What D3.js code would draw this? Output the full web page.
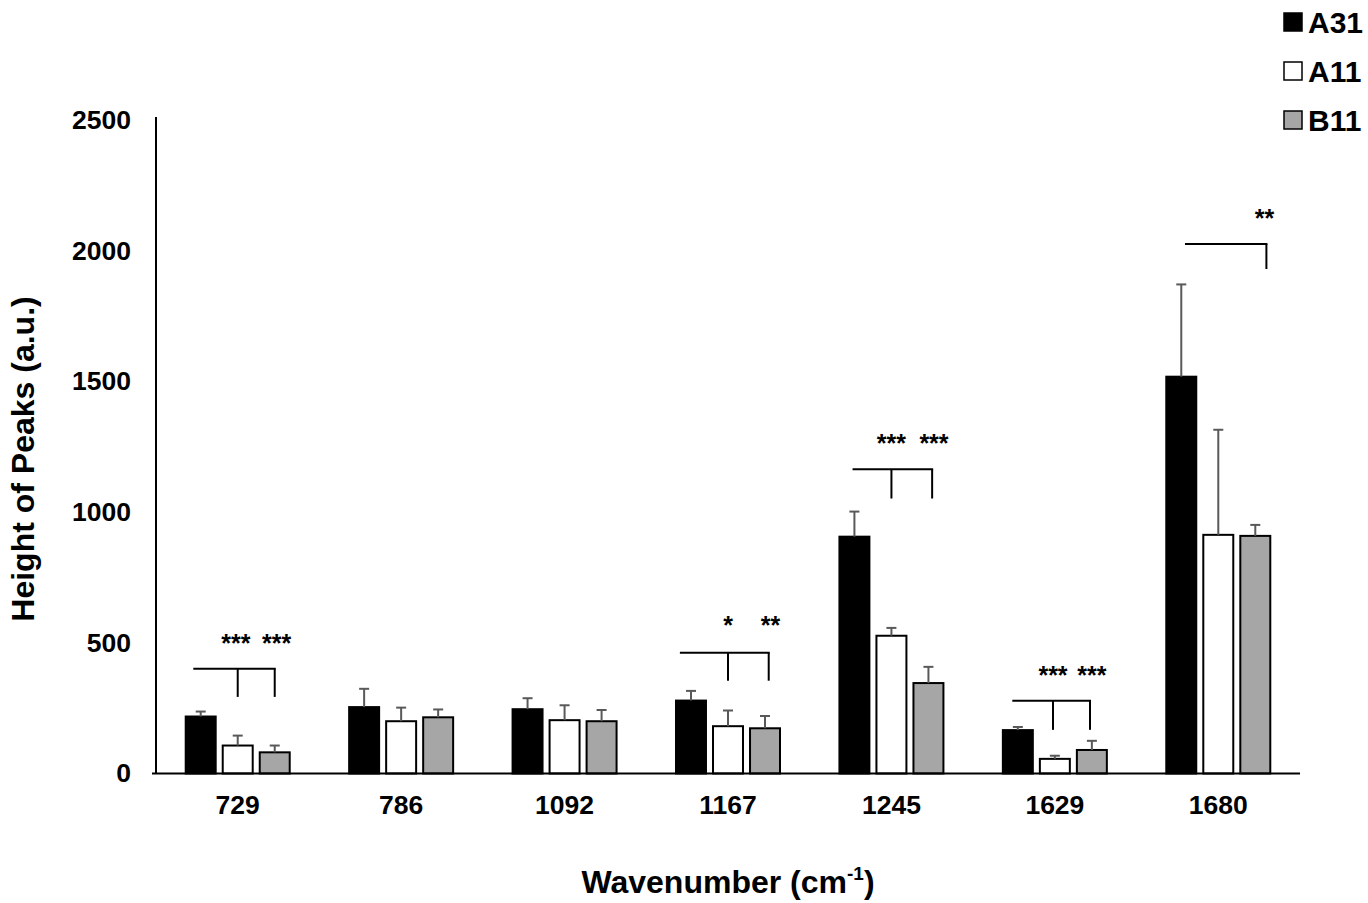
<!DOCTYPE html>
<html>
<head>
<meta charset="utf-8">
<script src="https://cdn.jsdelivr.net/npm/d3@7"></script>
<style>
  html, body { margin: 0; padding: 0; background: #fff; }
  svg { display: block; font-family: "Liberation Sans", Arial, sans-serif; }
</style>
</head>
<body>
<svg id="chart" width="1368" height="903"></svg>
<script>
// ---- data ----
const categories = ["729", "786", "1092", "1167", "1245", "1629", "1680"];
const seriesNames = ["A31", "A11", "B11"];
const seriesColors = ["#000000", "#ffffff", "#a6a6a6"];
const valuesA31 = [218, 254, 246, 279, 906, 166, 1518];
const valuesA11 = [107, 200, 204, 181, 527, 56, 913];
const valuesB11 = [81, 215, 200, 173, 346, 90, 909];
const errTopA31 = [237, 324, 288, 316, 1002, 178, 1871];
const errTopA11 = [145, 252, 261, 241, 557, 68, 1315];
const errTopB11 = [107, 245, 243, 220, 408, 125, 951];
const yTicks = [0, 500, 1000, 1500, 2000, 2500];
// significance brackets: category, bar level (value), drop end (value), drop positions (series index), labels
const brackets = [
  { cat: "729",  level: 401,  end: 293,  from: -0.2, drops: [1, 2],    labels: ["***", "***"], labelY: 490, labelPos: [0.95, 2.05] },
  { cat: "1167", level: 462,  end: 355,  from: -0.3, drops: [1, 2.1],  labels: ["*", "**"],    labelY: 560, labelPos: [1, 2.15] },
  { cat: "1245", level: 1164, end: 1052, from: -0.05, drops: [1, 2.1], labels: ["***", "***"], labelY: 1255, labelPos: [1, 2.15] },
  { cat: "1629", level: 278,  end: 167,  from: -0.15, drops: [0.95, 1.95], labels: ["***", "***"], labelY: 368, labelPos: [0.95, 2.0] },
  { cat: "1680", level: 2026, end: 1930, from: 0.1, drops: [2.3],    labels: ["**"],          labelY: 2115, labelPos: [2.25] }
];

const values = [valuesA31, valuesA11, valuesB11];
const errTops = [errTopA31, errTopA11, errTopB11];

// ---- layout ----
const svg = d3.select("#chart");
const left = 156, right = 1300;
const x0 = d3.scaleBand().domain(categories).range([left, right]).padding(0);
const groupW = 104;
const x1 = d3.scaleBand().domain(d3.range(3))
  .range([(x0.step() - groupW) / 2, (x0.step() + groupW) / 2])
  .paddingInner(0.19).paddingOuter(0);
const y = d3.scaleLinear().domain([0, 2500]).range([773.5, 120]);

function barCenter(cat, s) {
  return x0(cat) + x1(0) + x1.bandwidth() / 2 + s * x1.step();
}

// ---- axes ----
const yAxis = d3.axisLeft(y).tickValues(yTicks).tickSize(0).tickPadding(25).tickFormat(d3.format("d"));
const gy = svg.append("g").attr("transform", `translate(${left},0)`).call(yAxis);
gy.select(".domain").remove();
gy.selectAll("text").attr("font-size", 26.5).attr("font-weight", "bold").attr("fill", "#000")
  .attr("font-family", "Liberation Sans, Arial, sans-serif");

svg.append("line").attr("x1", left).attr("x2", left).attr("y1", y(2500) - 3).attr("y2", y(0))
  .attr("stroke", "#000").attr("stroke-width", 2);

const xAxis = d3.axisBottom(x0).tickSize(0).tickPadding(22);
const gx = svg.append("g").attr("transform", `translate(0,${y(0)})`).call(xAxis);
gx.select(".domain").remove();
gx.selectAll("text").attr("font-size", 26.5).attr("font-weight", "bold").attr("fill", "#000")
  .attr("font-family", "Liberation Sans, Arial, sans-serif");

// ---- bars ----
const groups = svg.append("g").selectAll("g").data(categories).join("g")
  .attr("transform", d => `translate(${x0(d)},0)`);

groups.selectAll("rect").data((d, i) => d3.range(3).map(s => ({ s, v: values[s][i], e: errTops[s][i] })))
  .join("rect")
  .attr("x", d => x1(d.s))
  .attr("y", d => y(d.v))
  .attr("width", x1.bandwidth())
  .attr("height", d => y(0) - y(d.v))
  .attr("fill", d => seriesColors[d.s])
  .attr("stroke", "#000")
  .attr("stroke-width", 2);

// error bars
const eb = groups.selectAll("g.err").data((d, i) => d3.range(3).map(s => ({ s, v: values[s][i], e: errTops[s][i] })))
  .join("g").attr("class", "err");
eb.append("line")
  .attr("x1", d => x1(d.s) + x1.bandwidth() / 2).attr("x2", d => x1(d.s) + x1.bandwidth() / 2)
  .attr("y1", d => y(d.v)).attr("y2", d => y(d.e))
  .attr("stroke", "#595959").attr("stroke-width", 2);
eb.append("line")
  .attr("x1", d => x1(d.s) + x1.bandwidth() / 2 - 5).attr("x2", d => x1(d.s) + x1.bandwidth() / 2 + 5)
  .attr("y1", d => y(d.e)).attr("y2", d => y(d.e))
  .attr("stroke", "#595959").attr("stroke-width", 2);

// x-axis line
svg.append("line").attr("x1", left - 4).attr("x2", right).attr("y1", y(0)).attr("y2", y(0))
  .attr("stroke", "#000").attr("stroke-width", 2);

// ---- significance brackets ----
const bg = svg.append("g");
brackets.forEach(b => {
  const xs = b.drops.map(s => barCenter(b.cat, s));
  const xl = barCenter(b.cat, b.from);
  const xr = d3.max(xs);
  bg.append("line").attr("x1", xl).attr("x2", xr + 1).attr("y1", y(b.level)).attr("y2", y(b.level))
    .attr("stroke", "#000").attr("stroke-width", 2);
  xs.forEach(xx => {
    bg.append("line").attr("x1", xx).attr("x2", xx).attr("y1", y(b.level)).attr("y2", y(b.end))
      .attr("stroke", "#000").attr("stroke-width", 2);
  });
  b.labels.forEach((t, k) => {
    bg.append("text").attr("x", barCenter(b.cat, b.labelPos[k])).attr("y", y(b.labelY))
      .attr("text-anchor", "middle").attr("dominant-baseline", "middle")
      .attr("font-size", 25).attr("font-weight", "bold").attr("fill", "#000").text(t);
  });
});

// ---- titles ----
const xt = svg.append("text").attr("x", (left + right) / 2).attr("y", 893)
  .attr("text-anchor", "middle").attr("font-size", 32).attr("font-weight", "bold").attr("fill", "#000");
xt.append("tspan").text("Wavenumber (cm");
xt.append("tspan").attr("font-size", 19).attr("dy", -13).text("-1");
xt.append("tspan").attr("dy", 13).text(")");

svg.append("text").attr("transform", "translate(34,459) rotate(-90)")
  .attr("text-anchor", "middle").attr("font-size", 32).attr("font-weight", "bold").attr("fill", "#000")
  .text("Height of Peaks (a.u.)");

// ---- legend ----
const lg = svg.append("g").selectAll("g").data(seriesNames).join("g")
  .attr("transform", (d, i) => `translate(1284,${13 + i * 49})`);
lg.append("rect").attr("width", 18).attr("height", 18)
  .attr("fill", (d, i) => seriesColors[i]).attr("stroke", "#000").attr("stroke-width", 1.5);
lg.append("text").attr("x", 24).attr("y", 9).attr("dominant-baseline", "central")
  .attr("font-size", 30).attr("font-weight", "bold").attr("fill", "#000").text(d => d);
</script>
</body>
</html>
